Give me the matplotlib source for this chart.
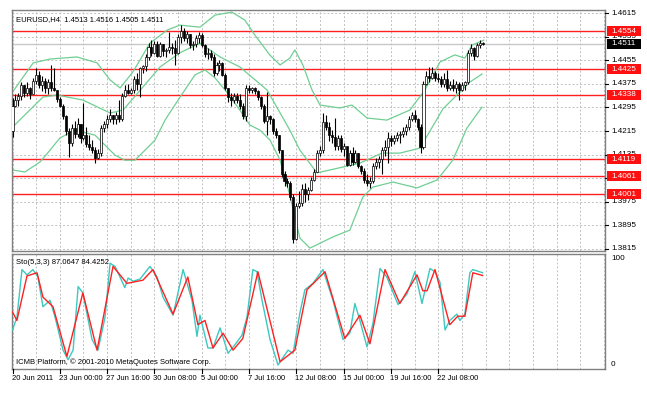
import numpy as np
import matplotlib
matplotlib.use("Agg")
import matplotlib.pyplot as plt
from matplotlib.patches import Rectangle

# ---- data (EURUSD H4, 160 bars) ----
closes = [1.4300, 1.4320, 1.4335, 1.4370, 1.4345, 1.4360, 1.4340, 1.4385, 1.4405, 1.4370,
          1.4385, 1.4360, 1.4380, 1.4360, 1.4355, 1.4325, 1.4300, 1.4265, 1.4215, 1.4175,
          1.4225, 1.4205, 1.4240, 1.4190, 1.4200, 1.4170, 1.4160, 1.4150, 1.4125, 1.4140,
          1.4225, 1.4240, 1.4255, 1.4270, 1.4255, 1.4270, 1.4255, 1.4335, 1.4355, 1.4345,
          1.4355, 1.4390, 1.4375, 1.4430, 1.4435, 1.4465, 1.4500, 1.4480, 1.4510, 1.4470,
          1.4510, 1.4485, 1.4490, 1.4500, 1.4495, 1.4480, 1.4535, 1.4555, 1.4530, 1.4545,
          1.4505, 1.4510, 1.4530, 1.4540, 1.4505, 1.4475, 1.4480, 1.4465, 1.4410, 1.4440,
          1.4445, 1.4405, 1.4360, 1.4330, 1.4320, 1.4335, 1.4320, 1.4300, 1.4265, 1.4360,
          1.4355, 1.4360, 1.4350, 1.4330, 1.4300, 1.4250, 1.4265, 1.4255, 1.4215, 1.4200,
          1.4150, 1.4070, 1.4045, 1.4040, 1.3990, 1.3850, 1.3960, 1.3970, 1.4020, 1.4000,
          1.4015, 1.4050, 1.4075, 1.4140, 1.4150, 1.4245, 1.4230, 1.4200, 1.4195, 1.4165,
          1.4190, 1.4155, 1.4165, 1.4100, 1.4140, 1.4110, 1.4140, 1.4095, 1.4080, 1.4050,
          1.4040, 1.4045, 1.4095, 1.4110, 1.4120, 1.4150, 1.4160, 1.4190, 1.4180, 1.4190,
          1.4200, 1.4205, 1.4215, 1.4230, 1.4255, 1.4270, 1.4255, 1.4230, 1.4160, 1.4375,
          1.4400, 1.4395, 1.4410, 1.4395, 1.4390, 1.4375, 1.4390, 1.4360, 1.4370, 1.4360,
          1.4375, 1.4355, 1.4370, 1.4380, 1.4480, 1.4495, 1.4470, 1.4505, 1.4513, 1.4511]
highs = [1.4326, 1.4340, 1.4345, 1.4382, 1.4372, 1.4380, 1.4365, 1.4395, 1.4427, 1.4420,
         1.4400, 1.4395, 1.4390, 1.4440, 1.4430, 1.4355, 1.4330, 1.4305, 1.4270, 1.4225,
         1.4240, 1.4250, 1.4260, 1.4240, 1.4310, 1.4230, 1.4200, 1.4185, 1.4160, 1.4155,
         1.4235, 1.4250, 1.4270, 1.4290, 1.4270, 1.4280, 1.4320, 1.4345, 1.4370, 1.4375,
         1.4360, 1.4400, 1.4410, 1.4433, 1.4440, 1.4475, 1.4515, 1.4525, 1.4520, 1.4520,
         1.4518, 1.4510, 1.4495, 1.4552, 1.4515, 1.4523, 1.4545, 1.4574, 1.4565, 1.4555,
         1.4545, 1.4520, 1.4540, 1.4552, 1.4548, 1.4510, 1.4495, 1.4490, 1.4475, 1.4450,
         1.4455, 1.4450, 1.4410, 1.4360, 1.4345, 1.4345, 1.4345, 1.4340, 1.4310, 1.4370,
         1.4370, 1.4365, 1.4365, 1.4355, 1.4335, 1.4305, 1.4348, 1.4270, 1.4260, 1.4225,
         1.4200, 1.4150, 1.4080, 1.4055, 1.4045, 1.4000, 1.3970, 1.4010, 1.4035, 1.4040,
         1.4025, 1.4060, 1.4085, 1.4150, 1.4165, 1.4275, 1.4270, 1.4245, 1.4220, 1.4260,
         1.4200, 1.4200, 1.4175, 1.4160, 1.4150, 1.4160, 1.4150, 1.4140, 1.4100, 1.4090,
         1.4070, 1.4060, 1.4105, 1.4125, 1.4130, 1.4160, 1.4185, 1.4213, 1.4200, 1.4200,
         1.4210, 1.4215, 1.4230, 1.4240, 1.4265, 1.4280, 1.4285, 1.4260, 1.4240, 1.4385,
         1.4420, 1.4433, 1.4433, 1.4420, 1.4410, 1.4400, 1.4410, 1.4422, 1.4385, 1.4390,
         1.4385, 1.4380, 1.4380, 1.4385, 1.4490, 1.4510, 1.4500, 1.4512, 1.4522, 1.4516]
lows = [1.4196, 1.4295, 1.4300, 1.4320, 1.4330, 1.4335, 1.4325, 1.4345, 1.4375, 1.4360,
        1.4350, 1.4345, 1.4340, 1.4350, 1.4350, 1.4315, 1.4295, 1.4255, 1.4200, 1.4128,
        1.4165, 1.4190, 1.4195, 1.4175, 1.4184, 1.4160, 1.4150, 1.4140, 1.4105, 1.4120,
        1.4130, 1.4210, 1.4225, 1.4245, 1.4240, 1.4240, 1.4246, 1.4250, 1.4330, 1.4340,
        1.4340, 1.4345, 1.4355, 1.4331, 1.4410, 1.4420, 1.4455, 1.4470, 1.4475, 1.4465,
        1.4465, 1.4470, 1.4465, 1.4480, 1.4475, 1.4439, 1.4475, 1.4515, 1.4520, 1.4515,
        1.4495, 1.4490, 1.4500, 1.4515, 1.4500, 1.4465, 1.4460, 1.4455, 1.4400, 1.4405,
        1.4420, 1.4400, 1.4355, 1.4315, 1.4300, 1.4310, 1.4310, 1.4290, 1.4255, 1.4250,
        1.4345, 1.4345, 1.4340, 1.4320, 1.4290, 1.4241, 1.4201, 1.4240, 1.4205, 1.4190,
        1.4140, 1.4060, 1.4030, 1.4025, 1.3980, 1.3834, 1.3845, 1.3955, 1.3960, 1.3975,
        1.3980, 1.4010, 1.4045, 1.4075, 1.4130, 1.4140, 1.4220, 1.4180, 1.4175, 1.4150,
        1.4150, 1.4145, 1.4130, 1.4095, 1.4095, 1.4100, 1.4105, 1.4090, 1.4070, 1.4040,
        1.4030, 1.4021, 1.4040, 1.4085, 1.4090, 1.4070, 1.4130, 1.4105, 1.4165, 1.4170,
        1.4180, 1.4175, 1.4195, 1.4200, 1.4220, 1.4250, 1.4245, 1.4220, 1.4139, 1.4155,
        1.4370, 1.4380, 1.4390, 1.4385, 1.4380, 1.4365, 1.4365, 1.4350, 1.4355, 1.4350,
        1.4345, 1.4320, 1.4350, 1.4355, 1.4375, 1.4470, 1.4456, 1.4465, 1.4495, 1.4505]
first_open = 1.4215

# Bollinger band lines (bar index, price)
bb_up_idx = [0, 7, 12.7, 21.8, 28.6, 33, 36.4, 40.7, 46.5, 52.3, 56.6, 63.4, 68.5, 74.2, 78.6, 82,
             87, 90.5, 93.8, 95.5, 98.2, 101.3, 104, 110.7, 114.8, 119.9, 126.6, 134.4, 139.5,
             144.6, 149.6, 153, 155.4, 159.4]
bb_up = [1.4347, 1.4446, 1.4459, 1.4466, 1.4446, 1.4388, 1.4361, 1.4415, 1.4513, 1.4557, 1.4574,
         1.4567, 1.4608, 1.4618, 1.4591, 1.4540, 1.4473, 1.4439, 1.4462, 1.4490, 1.4439, 1.4354,
         1.4303, 1.4293, 1.4303, 1.4259, 1.4252, 1.4286, 1.4354, 1.4449, 1.4473, 1.4462, 1.4506,
         1.4523]
bb_mid_idx = [0, 10.3, 15, 23.8, 33, 37.4, 44.1, 49.9, 56.6, 63.4, 70.2, 76.9, 86.1, 93.8, 97.2,
              103, 111.8, 117.5, 124.9, 131, 137.8, 145.6, 154.7, 158.8]
bb_mid = [1.4228, 1.4330, 1.4337, 1.4320, 1.4276, 1.4286, 1.4364, 1.4432, 1.4480, 1.4513, 1.4466,
          1.4432, 1.4354, 1.4218, 1.4150, 1.4073, 1.4093, 1.4106, 1.4140, 1.4140, 1.4157, 1.4290,
          1.4381, 1.4408]
bb_low_idx = [0, 4.2, 9.3, 12.7, 16, 21, 27.9, 31.3, 34.7, 38, 41.4, 44.8, 48.2, 51.6, 54.9, 58.3,
              61.7, 65.1, 68.5, 71.9, 76.9, 80.3, 83.7, 87.1, 90.5, 93.8, 97.2, 100.6, 108.4, 114.1,
              118.5, 121.9, 128.7, 136.8, 143.6, 148.9, 153.7, 158.8]
bb_low = [1.4083, 1.4076, 1.4110, 1.4150, 1.4191, 1.4218, 1.4201, 1.4167, 1.4133, 1.4116, 1.4116,
          1.4150, 1.4184, 1.4252, 1.4303, 1.4354, 1.4405, 1.4422, 1.4395, 1.4354, 1.4286, 1.4235,
          1.4218, 1.4184, 1.4116, 1.3998, 1.3852, 1.3818, 1.3856, 1.3879, 1.3991, 1.4025, 1.4042,
          1.4022, 1.4049, 1.4116, 1.4225, 1.4296]

# Stochastic (5,3,3)
sto_main_idx = [0, 1.5, 3.2, 4.9, 6.9, 8.6, 10.3, 12.7, 14.4, 17.1, 18.8, 20.5, 22.2, 23.8, 26.9,
                28.9, 31.3, 33, 34.7, 38, 39.1, 40.8, 43.1, 46.5, 48.9, 50.9, 54.3, 57.7, 60.7,
                62.4, 63.4, 66.1, 67.8, 70.2, 72.9, 75.2, 77.6, 79.3, 81.3, 82.7, 84.4, 87.1, 89.8,
                93.2, 94.9, 97.2, 98.9, 101.6, 105, 108.4, 111.8, 114.1, 115.8, 117.5, 119.9,
                121.9, 124.3, 126.6, 130.4, 133.4, 136.1, 138.5, 141.2, 142.9, 144.6, 146.3,
                147.9, 150.3, 151.3, 153, 154.7, 155.7, 159]
sto_main = [33, 45, 90, 85, 90, 83, 55, 61, 45, 14, 5, 14, 74, 68, 24, 14, 45, 96, 93, 73, 82, 79,
            81, 93, 83, 64, 47, 90, 61, 27, 47, 16, 16, 35, 11, 19, 28, 45, 90, 88, 61, 24, 0, 14,
            11, 49, 71, 77, 90, 61, 24, 30, 58, 42, 17, 39, 91, 83, 57, 67, 88, 58, 91, 88, 78,
            33, 42, 48, 42, 48, 87, 90, 87.06]
sto_sig_idx = [0, 1.5, 4.9, 8.3, 10.3, 13.7, 18.4, 23.8, 28.6, 34, 38.7, 44.1, 47.5, 54.3, 59.3,
               62.7, 65.1, 67.8, 71.2, 74.6, 77.9, 83, 90.5, 95.5, 99.6, 105.7, 112.4, 117.5,
               120.9, 126, 131, 136.8, 138.8, 140.2, 142.9, 147.9, 150.6, 153, 155.7, 159]
sto_sig = [50, 42, 84, 87, 64, 55, 8, 68, 14, 93, 77, 80, 90, 48, 83, 38, 42, 16, 30, 14, 25, 88,
           3, 14, 71, 88, 25, 47, 20, 90, 58, 85, 70, 70, 90, 38, 46, 46, 87, 84.43]

# horizontal levels
red_levels = [1.4554, 1.4425, 1.4338, 1.4119, 1.4061, 1.4001]
bid = 1.4511
price_ticks = [1.4615, 1.4535, 1.4455, 1.4375, 1.4295, 1.4215, 1.4135, 1.4055, 1.3975, 1.3895, 1.3815]
time_labels = ['20 Jun 2011', '23 Jun 00:00', '27 Jun 16:00', '30 Jun 08:00', '5 Jul 00:00',
               '7 Jul 16:00', '12 Jul 08:00', '15 Jul 00:00', '19 Jul 16:00', '22 Jul 08:00']

# ---- figure ----
W, H = 647, 396
fig = plt.figure(figsize=(W / 100, H / 100), dpi=100)
fig.patch.set_facecolor('white')

def box(x0, y0, x1, y1):
    return [x0 / W, 1 - y1 / H, (x1 - x0) / W, (y1 - y0) / H]

ax = fig.add_axes(box(12, 10, 605, 251))
ax2 = fig.add_axes(box(12, 254, 605, 369))

n = len(closes)
idx = np.arange(n)
opens = [first_open] + closes[:-1]
xmin, xmax = -0.17, 200.4
grid_col = '#c0c0c0'
font = 'Liberation Sans'
fs = 5.5
fs_scale = 5.9

for a in (ax, ax2):
    a.set_xlim(xmin, xmax)
    a.set_xticks([])
    a.set_yticks([])
    for s in a.spines.values():
        s.set_color('#808080')
        s.set_linewidth(1.0)
    for gx in range(0, 201, 8):
        a.axvline(gx, color=grid_col, lw=0.7, ls=(0, (2, 2)), zorder=0)

ax.set_ylim(1.38082, 1.46252)
ax2.set_ylim(-3.8, 104.7)

for p in price_ticks:
    ax.axhline(p, color=grid_col, lw=0.7, ls=(0, (2, 2)), zorder=0)
ax.axhline(bid, color='#c8c8c8', lw=1.0, zorder=1)
for lv in red_levels:
    ax.axhline(lv, color='#ff2020', lw=1.0, zorder=1)

# candles
o = np.array(opens); c = np.array(closes)
hi = np.array(highs); lo = np.array(lows)
ax.vlines(idx, lo, hi, color='black', lw=0.8, zorder=3)
bull = c >= o
bh = np.maximum(np.abs(c - o), 0.00004)
ax.bar(idx[bull], bh[bull], bottom=np.minimum(o, c)[bull], width=0.7,
       color='white', edgecolor='black', linewidth=0.5, zorder=4)
ax.bar(idx[~bull], bh[~bull], bottom=np.minimum(o, c)[~bull], width=0.7,
       color='black', edgecolor='black', linewidth=0.5, zorder=4)

# Bollinger bands
bb_col = '#6fcf92'
ax.plot(bb_up_idx, bb_up, color=bb_col, lw=0.9, zorder=2)
ax.plot(bb_mid_idx, bb_mid, color=bb_col, lw=0.9, zorder=2)
ax.plot(bb_low_idx, bb_low, color=bb_col, lw=0.9, zorder=2)

# stochastic
ax2.plot(sto_main_idx, sto_main, color='#3cc8c0', lw=1.0, zorder=3)
ax2.plot(sto_sig_idx, sto_sig, color='#ff2020', lw=1.0, zorder=4)

# texts inside windows
ax.text(0.006, 0.975, 'EURUSD,H4  1.4513 1.4516 1.4505 1.4511', transform=ax.transAxes,
        fontsize=fs, family=font, va='top', ha='left')
ax2.text(0.006, 0.955, 'Sto(5,3,3) 87.0647 84.4252', transform=ax2.transAxes,
         fontsize=fs, family=font, va='top', ha='left')
ax2.text(0.006, 0.03, 'ICMB Platform, \u00a9 2001-2010 MetaQuotes Software Corp.', transform=ax2.transAxes,
         fontsize=fs, family=font, va='bottom', ha='left')

# right price scale
def ypix_main(p):
    return 10 + (1.46252 - p) / (1.46252 - 1.38082) * 241

for p in price_ticks:
    yy = ypix_main(p)
    fig.text(611 / W, 1 - yy / H, f'{p:.4f}', fontsize=fs_scale, family=font, va='center', ha='left',
             zorder=1)
    fig.add_artist(plt.Line2D([605 / W, 608 / W], [1 - yy / H] * 2, color='black', lw=0.8))

def price_box(level, fc):
    yy = ypix_main(level)
    fig.add_artist(Rectangle((607 / W, 1 - (yy + 5) / H), 34 / W, 10 / H,
                             transform=fig.transFigure, fc=fc, ec='none', zorder=5))
    fig.text(611 / W, 1 - yy / H, f'{level:.4f}', fontsize=fs_scale, family=font,
             va='center', ha='left', color='white', zorder=6)

for lv in red_levels:
    price_box(lv, '#ff1010')
price_box(bid, 'black')

for val in (100, 0):
    yy = 254 + (104.7 - val) / 108.5 * 115
    fig.text(611 / W, 1 - yy / H, str(val), fontsize=fs_scale, family=font, va='center', ha='left')

# time axis
for k, lab in enumerate(time_labels):
    xi = k * 16
    xp = 12 + (xi - xmin) / (xmax - xmin) * 593
    fig.add_artist(plt.Line2D([xp / W] * 2, [1 - 369 / H, 1 - 373 / H], color='black', lw=0.8))
    fig.text((xp - 1) / W, 1 - 379 / H, lab, fontsize=5.5, family=font, va='center', ha='left')

fig.savefig('out.png', dpi=100)
